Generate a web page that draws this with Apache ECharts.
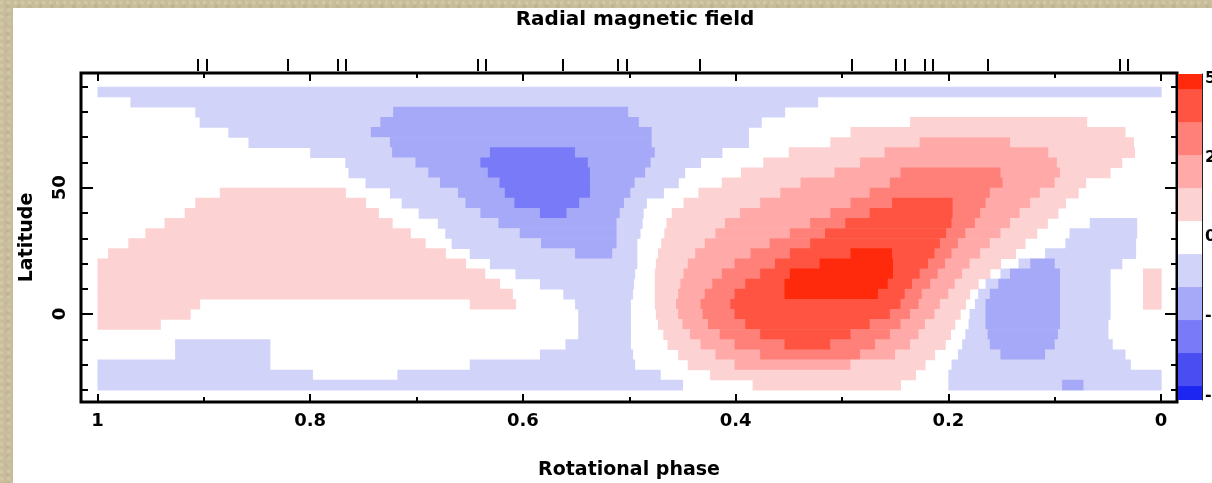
<!DOCTYPE html>
<html><head><meta charset="utf-8">
<script src="https://cdn.jsdelivr.net/npm/echarts@6/dist/echarts.min.js"></script>
<style>
html,body{margin:0;padding:0;overflow:hidden;}
body{background-color:#c8bd9b;background-image:radial-gradient(circle at 20% 40%, rgba(255,250,230,0.25) 0, rgba(255,250,230,0) 3px),radial-gradient(circle at 70% 70%, rgba(120,105,70,0.18) 0, rgba(120,105,70,0) 3px);background-size:7px 7px, 11px 9px;}
#panel{position:absolute;left:13px;top:8px;width:1199px;height:475px;background:#fff;}
#c{position:absolute;left:0;top:0;width:1212px;height:483px;}
</style>
</head><body><div id="panel"></div><div id="c"></div>
<script>
// ---- data ----
const title = 'Radial magnetic field';
const xName = 'Rotational phase';
const yName = 'Latitude';
const xMajor = [0, 0.2, 0.4, 0.6, 0.8, 1];
const xMinor = [0.1, 0.3, 0.5, 0.7, 0.9];
const yMajor = [0, 50];
const yMinor = [-30, -20, -10, 10, 20, 30, 40, 60, 70, 80, 90];
const obsPhases = [0.9055, 0.897, 0.8209, 0.7739, 0.7663, 0.6422, 0.6347, 0.5623, 0.5106, 0.5021,
  0.4335, 0.2906, 0.2492, 0.2407, 0.2219, 0.2144, 0.1627, 0.0386, 0.031];
// field levels (colour classes) -5..5
const levels = [-5, -4, -3, -2, -1, 0, 1, 2, 3, 4, 5];
const levelColors = ['#1c26f0', '#4a4ef2', '#787af8', '#a6a8f8', '#d1d3f9', '#ffffff',
  '#fdd2d2', '#ffaaa8', '#ff8078', '#ff5442', '#ff2a0c'];
const cbLabelValues = [-4.8, -2.4, 0, 2.4, 4.8];
const cbLabelTexts = ['-50', '-25', '0', '25', '50'];
const cbMinor = [-4.32, -3.84, -3.36, -2.88, -1.92, -1.44, -0.96, -0.48, 0.48, 0.96, 1.44, 1.92, 2.88, 3.36, 3.84, 4.32];
// latitude band edges (top to bottom)
const latEdges = [90, 86, 82, 78, 74, 70, 66, 62, 58, 54, 50, 46, 42, 38, 34, 30, 26, 22, 18, 14, 10, 6, 2, -2, -6, -10, -14, -18, -22, -26, -30];
// each row: level, phase where it ends, level, phase where it ends ... (starting at phase 1)
const rows = [
  [-1, 0],
  [0, 0.969, -1, 0.323, 0, 0],
  [0, 0.908, -1, 0.722, -2, 0.501, -1, 0.354, 0, 0],
  [0, 0.904, -1, 0.734, -2, 0.491, -1, 0.376, 0, 0.236, 1, 0.070, 0, 0],
  [0, 0.877, -1, 0.743, -2, 0.479, -1, 0.388, 0, 0.292, 1, 0.034, 0, 0],
  [0, 0.858, -1, 0.725, -2, 0.479, -1, 0.388, 0, 0.311, 1, 0.227, 2, 0.142, 1, 0.026, 0, 0],
  [0, 0.800, -1, 0.723, -2, 0.631, -3, 0.551, -2, 0.476, -1, 0.413, 0, 0.350, 1, 0.260, 2, 0.106, 1, 0.025, 0, 0],
  [0, 0.767, -1, 0.701, -2, 0.640, -3, 0.539, -2, 0.480, -1, 0.433, 0, 0.374, 1, 0.283, 2, 0.098, 1, 0.037, 0, 0],
  [0, 0.764, -1, 0.689, -2, 0.633, -3, 0.537, -2, 0.485, -1, 0.448, 0, 0.395, 1, 0.307, 2, 0.245, 3, 0.151, 2, 0.095, 1, 0.048, 0, 0],
  [0, 0.748, -1, 0.678, -2, 0.622, -3, 0.537, -2, 0.495, -1, 0.454, 0, 0.413, 1, 0.339, 2, 0.255, 3, 0.149, 2, 0.100, 1, 0.071, 0, 0],
  [0, 0.885, 1, 0.767, 0, 0.725, -1, 0.661, -2, 0.617, -3, 0.537, -2, 0.499, -1, 0.468, 0, 0.435, 1, 0.358, 2, 0.274, 3, 0.161, 2, 0.114, 1, 0.078, 0, 0],
  [0, 0.908, 1, 0.748, 0, 0.714, -1, 0.654, -2, 0.608, -3, 0.547, -2, 0.505, -1, 0.484, 0, 0.449, 1, 0.377, 2, 0.292, 3, 0.253, 4, 0.196, 3, 0.165, 2, 0.123, 1, 0.090, 0, 0],
  [0, 0.918, 1, 0.736, 0, 0.698, -1, 0.640, -2, 0.584, -3, 0.559, -2, 0.509, -1, 0.487, 0, 0.460, 1, 0.396, 2, 0.311, 3, 0.274, 4, 0.196, 3, 0.170, 2, 0.133, 1, 0.097, 0, 0],
  [0, 0.937, 1, 0.723, 0, 0.680, -1, 0.623, -2, 0.512, -1, 0.488, 0, 0.465, 1, 0.410, 2, 0.330, 3, 0.297, 4, 0.197, 3, 0.175, 2, 0.142, 1, 0.107, 0, 0.067, -1, 0.023, 0, 0],
  [0, 0.955, 1, 0.706, 0, 0.673, -1, 0.603, -2, 0.512, -1, 0.490, 0, 0.467, 1, 0.419, 2, 0.349, 3, 0.316, 4, 0.202, 3, 0.184, 2, 0.151, 1, 0.117, 0, 0.086, -1, 0.023, 0, 0],
  [0, 0.971, 1, 0.692, 0, 0.667, -1, 0.583, -2, 0.512, -1, 0.493, 0, 0.470, 1, 0.429, 2, 0.368, 3, 0.330, 4, 0.208, 3, 0.191, 2, 0.161, 1, 0.128, 0, 0.090, -1, 0.024, 0, 0],
  [0, 0.990, 1, 0.673, 0, 0.650, -1, 0.551, -2, 0.516, -1, 0.493, 0, 0.473, 1, 0.438, 2, 0.386, 3, 0.349, 4, 0.292, 5, 0.253, 4, 0.213, 3, 0.197, 2, 0.170, 1, 0.137, 0, 0.109, -1, 0.024, 0, 0],
  [1, 0.654, 0, 0.631, -1, 0.493, 0, 0.475, 1, 0.445, 2, 0.401, 3, 0.363, 4, 0.321, 5, 0.252, 4, 0.219, 3, 0.203, 2, 0.180, 1, 0.151, 0, 0.134, -1, 0.123, -2, 0.100, -1, 0.037, 0, 0],
  [1, 0.636, 0, 0.607, -1, 0.495, 0, 0.476, 1, 0.449, 2, 0.413, 3, 0.377, 4, 0.349, 5, 0.252, 4, 0.227, 3, 0.210, 2, 0.187, 1, 0.161, 0, 0.151, -1, 0.142, -2, 0.095, -1, 0.048, 0, 0.017, 1, 0],
  [1, 0.622, 0, 0.584, -1, 0.496, 0, 0.476, 1, 0.452, 2, 0.422, 3, 0.391, 4, 0.354, 5, 0.257, 4, 0.234, 3, 0.217, 2, 0.194, 1, 0.172, 0, 0.165, -1, 0.153, -2, 0.095, -1, 0.048, 0, 0.017, 1, 0],
  [1, 0.610, 0, 0.562, -1, 0.497, 0, 0.476, 1, 0.454, 2, 0.429, 3, 0.401, 4, 0.354, 5, 0.266, 4, 0.241, 3, 0.225, 2, 0.200, 1, 0.180, 0, 0.172, -1, 0.161, -2, 0.095, -1, 0.048, 0, 0.017, 1, 0],
  [1, 0.904, 0, 0.650, 1, 0.607, 0, 0.551, -1, 0.499, 0, 0.476, 1, 0.456, 2, 0.433, 3, 0.405, 4, 0.245, 3, 0.228, 2, 0.208, 1, 0.184, 0, 0.175, -1, 0.165, -2, 0.095, -1, 0.048, 0, 0.017, 1, 0],
  [1, 0.913, 0, 0.548, -1, 0.499, 0, 0.475, 1, 0.454, 2, 0.431, 3, 0.401, 4, 0.255, 3, 0.236, 2, 0.213, 1, 0.189, 0, 0.180, -1, 0.165, -2, 0.095, -1, 0.048, 0, 0],
  [1, 0.941, 0, 0.548, -1, 0.499, 0, 0.473, 1, 0.450, 2, 0.426, 3, 0.391, 4, 0.274, 3, 0.245, 2, 0.222, 1, 0.194, 0, 0.181, -1, 0.165, -2, 0.095, -1, 0.050, 0, 0],
  [0, 0.548, -1, 0.499, 0, 0.468, 1, 0.443, 2, 0.415, 3, 0.377, 4, 0.292, 3, 0.255, 2, 0.228, 1, 0.198, 0, 0.184, -1, 0.163, -2, 0.097, -1, 0.050, 0, 0],
  [0, 0.927, -1, 0.838, 0, 0.560, -1, 0.499, 0, 0.464, 1, 0.433, 2, 0.401, 3, 0.354, 4, 0.311, 3, 0.269, 2, 0.236, 1, 0.203, 0, 0.187, -1, 0.161, -2, 0.100, -1, 0.046, 0, 0],
  [0, 0.927, -1, 0.838, 0, 0.584, -1, 0.497, 0, 0.454, 1, 0.419, 2, 0.377, 3, 0.283, 2, 0.250, 1, 0.213, 0, 0.191, -1, 0.151, -2, 0.109, -1, 0.034, 0, 0],
  [-1, 0.838, 0, 0.650, -1, 0.495, 0, 0.445, 1, 0.401, 2, 0.292, 1, 0.222, 0, 0.197, -1, 0.029, 0, 0],
  [-1, 0.798, 0, 0.718, -1, 0.471, 0, 0.424, 1, 0.231, 0, 0.200, -1, 0],
  [-1, 0.450, 0, 0.384, 1, 0.245, 0, 0.200, -1, 0.093, -2, 0.073, -1, 0]
];

// ---- build cells ----
const cells = [];
rows.forEach(function (row, i) {
  const latTop = latEdges[i], latBot = latEdges[i + 1];
  let start = 1;
  for (let k = 0; k < row.length; k += 2) {
    const lev = row[k], end = row[k + 1];
    if (lev !== 0) cells.push([start, end, latBot, latTop, lev]);
    start = end;
  }
});
const cbCells = levels.map(function (l) { return [0, 1, l - 0.5, l + 0.5, l]; });

function colorOf(l) { return levelColors[levels.indexOf(l)]; }
function renderRect(params, api) {
  const a = api.coord([api.value(0), api.value(3)]);
  const b = api.coord([api.value(1), api.value(2)]);
  const x = Math.min(a[0], b[0]), y = Math.min(a[1], b[1]);
  return {
    type: 'rect',
    shape: { x: x, y: y, width: Math.abs(b[0] - a[0]) + 0.6, height: Math.abs(b[1] - a[1]) + 0.6 },
    style: { fill: colorOf(api.value(4)) }
  };
}

const FONT = 'DejaVu Sans';
const black = '#000';
function tickAxis(extra) {
  return Object.assign({
    type: 'value', gridIndex: 0, splitLine: { show: false }, axisLine: { show: false, onZero: false },
    axisLabel: { show: false }
  }, extra);
}
const xCommon = { min: -0.015, max: 1.0155, inverse: true };
const yCommon = { min: -34.8, max: 95.4 };

const chart = echarts.init(document.getElementById('c'));
chart.setOption({
  animation: false,
  backgroundColor: 'transparent',
  title: {
    text: title, left: 630, top: 5, textAlign: 'center',
    textStyle: { fontFamily: FONT, fontWeight: 'bold', fontSize: 20, color: black }
  },
  grid: [
    { left: 81, top: 73, width: 1096, height: 329, show: true, borderColor: black, borderWidth: 3, backgroundColor: 'transparent', outerBoundsMode: 'none', containLabel: false },
    { left: 1178, top: 74, width: 24, height: 326, show: false, outerBoundsMode: 'none', containLabel: false }
  ],
  xAxis: [
    tickAxis(Object.assign({}, xCommon, {
      position: 'bottom',
      axisTick: { show: true, inside: true, length: 8, customValues: xMajor, lineStyle: { color: black, width: 2 } },
      axisLabel: { show: true, customValues: xMajor, margin: 10, color: black, fontFamily: FONT, fontWeight: 'bold', fontSize: 18 },
      name: xName, nameLocation: 'middle', nameGap: 59,
      nameTextStyle: { color: black, fontFamily: FONT, fontWeight: 'bold', fontSize: 19 }
    })),
    tickAxis(Object.assign({}, xCommon, {
      position: 'bottom',
      axisTick: { show: true, inside: true, length: 5, customValues: xMinor, lineStyle: { color: black, width: 2 } }
    })),
    tickAxis(Object.assign({}, xCommon, {
      position: 'top',
      axisTick: { show: true, inside: true, length: 8, customValues: xMajor, lineStyle: { color: black, width: 2 } }
    })),
    tickAxis(Object.assign({}, xCommon, {
      position: 'top',
      axisTick: { show: true, inside: true, length: 5, customValues: xMinor, lineStyle: { color: black, width: 2 } }
    })),
    tickAxis(Object.assign({}, xCommon, {
      position: 'top', offset: 2,
      axisTick: { show: true, inside: false, length: 12, customValues: obsPhases, lineStyle: { color: black, width: 2 } }
    })),
    { type: 'value', gridIndex: 1, min: 0, max: 1, show: false }
  ],
  yAxis: [
    tickAxis(Object.assign({}, yCommon, {
      position: 'left',
      axisTick: { show: true, inside: true, length: 12, customValues: yMajor, lineStyle: { color: black, width: 2 } },
      axisLabel: { show: true, customValues: yMajor, rotate: 90, margin: 12, color: black, fontFamily: FONT, fontWeight: 'bold', fontSize: 18 },
      name: yName, nameLocation: 'middle', nameGap: 44, nameRotate: 90,
      nameTextStyle: { color: black, fontFamily: FONT, fontWeight: 'bold', fontSize: 19 }
    })),
    tickAxis(Object.assign({}, yCommon, {
      position: 'left',
      axisTick: { show: true, inside: true, length: 7, customValues: yMinor, lineStyle: { color: black, width: 2 } }
    })),
    tickAxis(Object.assign({}, yCommon, {
      position: 'right',
      axisTick: { show: true, inside: true, length: 12, customValues: yMajor, lineStyle: { color: black, width: 2 } }
    })),
    tickAxis(Object.assign({}, yCommon, {
      position: 'right',
      axisTick: { show: true, inside: true, length: 6, customValues: yMinor, lineStyle: { color: black, width: 2 } }
    })),
    {
      type: 'value', gridIndex: 1, position: 'left', min: -4.94, max: 4.94,
      splitLine: { show: false }, axisLine: { show: false, onZero: false }, axisLabel: { show: false },
      axisTick: { show: true, inside: true, length: 4, customValues: cbMinor.concat(cbLabelValues), lineStyle: { color: '#333', width: 1.5 } }
    },
    {
      type: 'value', gridIndex: 1, position: 'right', min: -4.94, max: 4.94,
      splitLine: { show: false }, axisLine: { show: true, onZero: false, lineStyle: { color: '#222', width: 1 } },
      axisTick: { show: true, inside: true, length: 4, customValues: cbMinor.concat(cbLabelValues), lineStyle: { color: '#333', width: 1.5 } },
      axisLabel: {
        show: true, customValues: cbLabelValues, margin: 3, color: black, fontFamily: FONT, fontWeight: 'bold', fontSize: 16,
        formatter: function (v) { const i = cbLabelValues.indexOf(v); return i >= 0 ? cbLabelTexts[i] : ''; }
      }
    }
  ],
  series: [
    {
      type: 'custom', xAxisIndex: 0, yAxisIndex: 0, renderItem: renderRect,
      encode: { x: [0, 1], y: [2, 3] }, data: cells, clip: true, silent: true
    },
    {
      type: 'custom', xAxisIndex: 5, yAxisIndex: 4, renderItem: renderRect,
      encode: { x: [0, 1], y: [2, 3] }, data: cbCells, clip: true, silent: true, z: 1
    }
  ]
});
</script>
</body></html>
